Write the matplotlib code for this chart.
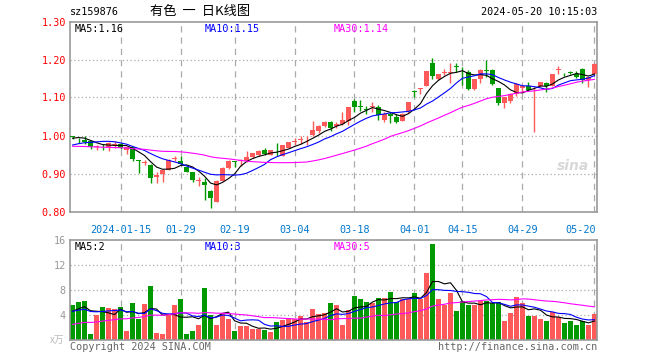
import numpy as np
import pandas as pd
import matplotlib
matplotlib.use('Agg')
import matplotlib.pyplot as plt

########################################################################
# Dados
feriados = ['2024-02-09', '2024-02-12', '2024-02-13', '2024-02-14', '2024-02-15',
            '2024-02-16', '2024-04-04', '2024-04-05', '2024-05-01', '2024-05-02', '2024-05-03']
datas = pd.bdate_range('2024-01-03', '2024-05-20').drop(pd.to_datetime(feriados))

abertura = [0.997, 0.988, 0.989, 0.985, 0.970, 0.973, 0.971, 0.975, 0.978, 0.961,
            0.969, 0.935, 0.928, 0.923, 0.891, 0.899, 0.910, 0.938, 0.934, 0.917,
            0.903, 0.881, 0.877, 0.853, 0.826, 0.880, 0.915, 0.932, 0.932, 0.934,
            0.943, 0.950, 0.961, 0.950, 0.954, 0.947, 0.967, 0.984, 0.988, 0.990,
            1.002, 1.013, 1.025, 1.036, 1.026, 1.030, 1.038, 1.090, 1.076, 1.068,
            1.076, 1.075, 1.040, 1.056, 1.049, 1.039, 1.065, 1.116, 1.123, 1.131,
            1.192, 1.148, 1.165, 1.165, 1.182, 1.180, 1.168, 1.122, 1.148, 1.171,
            1.172, 1.124, 1.086, 1.091, 1.108, 1.125, 1.131, 1.124, 1.130, 1.139,
            1.131, 1.173, 1.162, 1.166, 1.161, 1.176, 1.147, 1.163]
maxima = [0.999, 0.994, 1.000, 0.986, 0.975, 0.978, 0.982, 0.986, 0.981, 0.970,
          0.970, 0.935, 0.935, 0.925, 0.904, 0.909, 0.937, 0.945, 0.945, 0.918,
          0.904, 0.892, 0.888, 0.857, 0.883, 0.916, 0.936, 0.934, 0.938, 0.958,
          0.955, 0.962, 0.966, 0.962, 0.980, 0.975, 0.983, 0.994, 0.999, 1.000,
          1.037, 1.028, 1.037, 1.037, 1.035, 1.062, 1.074, 1.095, 1.093, 1.077,
          1.088, 1.080, 1.062, 1.062, 1.056, 1.058, 1.089, 1.119, 1.124, 1.169,
          1.203, 1.161, 1.174, 1.192, 1.190, 1.180, 1.172, 1.148, 1.174, 1.200,
          1.176, 1.125, 1.102, 1.111, 1.138, 1.134, 1.141, 1.127, 1.142, 1.140,
          1.162, 1.182, 1.164, 1.170, 1.170, 1.177, 1.155, 1.190]
minima = [0.991, 0.980, 0.978, 0.964, 0.961, 0.962, 0.959, 0.968, 0.965, 0.952,
          0.932, 0.901, 0.922, 0.876, 0.875, 0.877, 0.909, 0.932, 0.922, 0.903,
          0.878, 0.866, 0.829, 0.809, 0.824, 0.879, 0.913, 0.917, 0.920, 0.931,
          0.942, 0.947, 0.948, 0.949, 0.946, 0.946, 0.966, 0.976, 0.978, 0.975,
          1.000, 1.006, 1.022, 1.013, 1.020, 1.028, 1.028, 1.062, 1.065, 1.057,
          1.062, 1.042, 1.036, 1.033, 1.033, 1.038, 1.060, 1.102, 1.109, 1.130,
          1.150, 1.145, 1.158, 1.139, 1.168, 1.134, 1.119, 1.121, 1.138, 1.153,
          1.134, 1.080, 1.073, 1.086, 1.105, 1.112, 1.118, 1.008, 1.128, 1.115,
          1.130, 1.162, 1.157, 1.161, 1.152, 1.139, 1.128, 1.162]
fechamento = [0.996, 0.987, 0.982, 0.969, 0.971, 0.972, 0.980, 0.978, 0.968, 0.969,
              0.937, 0.934, 0.929, 0.888, 0.897, 0.908, 0.936, 0.939, 0.925, 0.905,
              0.882, 0.882, 0.871, 0.835, 0.880, 0.915, 0.932, 0.931, 0.936, 0.943,
              0.954, 0.960, 0.952, 0.961, 0.953, 0.974, 0.982, 0.985, 0.989, 0.991,
              1.015, 1.024, 1.035, 1.019, 1.030, 1.040, 1.074, 1.075, 1.075, 1.067,
              1.077, 1.053, 1.056, 1.051, 1.036, 1.056, 1.089, 1.115, 1.124, 1.169,
              1.157, 1.161, 1.166, 1.166, 1.181, 1.179, 1.122, 1.148, 1.172, 1.170,
              1.135, 1.086, 1.102, 1.108, 1.135, 1.130, 1.121, 1.125, 1.141, 1.130,
              1.161, 1.174, 1.161, 1.165, 1.155, 1.147, 1.154, 1.188]
volume = [5.6, 6.1, 6.3, 1.0, 4.0, 5.3, 5.1, 5.0, 5.3, 1.5,
          5.9, 3.4, 5.8, 8.6, 1.1, 1.0, 4.0, 5.6, 6.6, 1.0,
          1.4, 2.4, 8.3, 4.0, 2.4, 4.2, 3.4, 1.4, 2.2, 2.2,
          1.8, 1.8, 1.6, 1.3, 2.9, 3.2, 3.5, 3.4, 3.8, 2.9,
          5.0, 4.2, 4.3, 5.9, 5.6, 2.4, 4.8, 7.0, 6.6, 6.1,
          5.9, 6.7, 6.7, 7.7, 6.1, 6.6, 6.6, 7.5, 6.6, 10.7,
          15.4, 6.6, 5.6, 7.5, 4.6, 6.2, 5.6, 5.6, 6.2, 6.2,
          5.9, 6.1, 3.1, 4.4, 6.9, 6.0, 3.8, 3.8, 3.3, 3.1,
          4.5, 3.7, 2.7, 3.1, 2.4, 3.1, 2.4, 4.2]
# pregões anteriores (só para as médias móveis do início)
fech_anterior = [0.995, 0.992, 0.990, 0.988, 0.991, 0.993, 0.989, 0.986, 0.990, 0.986,
                 0.962, 0.955, 0.950, 0.948, 0.952, 0.946, 0.944, 0.950, 0.948, 0.945,
                 0.952, 0.956, 0.960, 0.958, 0.959, 0.978, 0.990, 0.998, 1.002]
vol_anterior = [1.3, 1.5, 1.4, 1.6, 1.2, 1.5, 1.4, 1.6, 1.3, 1.5,
                1.4, 1.6, 1.5, 1.3, 1.5, 1.4, 1.6, 1.5, 1.4, 1.5,
                4.4, 4.8, 4.6, 4.5, 4.7, 4.2, 4.5, 4.3, 4.4]

ticks_datas = ['2024-01-15', '2024-01-29', '2024-02-19', '2024-03-04', '2024-03-18',
               '2024-04-01', '2024-04-15', '2024-04-29', '2024-05-20']
ticks_rotulos = ['2024-01-15', '01-29', '02-19', '03-04', '03-18',
                 '04-01', '04-15', '04-29', '05-20']

########################################################################
# Médias móveis
n_ant = len(fech_anterior)
fech_tot = pd.Series(fech_anterior + fechamento)
vol_tot = pd.Series(vol_anterior + volume)
ma_preco = {k: fech_tot.rolling(k).mean().values[n_ant:] for k in (5, 10, 30)}
ma_vol = {k: vol_tot.rolling(k).mean().values[n_ant:] for k in (5, 10, 30)}

o = np.array(abertura); h = np.array(maxima); l = np.array(minima); c = np.array(fechamento)
x = np.arange(len(c))
sobe = c >= o
VERM = '#ff5a5a'
VERDE = '#009900'
cores = np.where(sobe, VERM, VERDE)
cor_ma = {5: 'black', 10: '#0000ff', 30: '#ff00ff'}
pos_ticks = [datas.get_loc(pd.Timestamp(d)) for d in ticks_datas]

MONO = 'DejaVu Sans Mono'
FS = 7.3
plt.rcParams['font.family'] = ['Noto Sans CJK SC', 'DejaVu Sans']

########################################################################
fig = plt.figure(figsize=(6.6, 3.6), dpi=100)
ax = fig.add_axes([70/660, 1-211.5/360, 527/660, 190/360])
axv = fig.add_axes([70/660, 1-340/360, 527/660, 100/360])

for a in (ax, axv):
    a.set_xlim(-0.42, len(c) - 0.58)
    for s in a.spines.values():
        s.set_color('#999999')
        s.set_linewidth(1.2)
    for p in pos_ticks:
        a.axvline(p, color='#aaaaaa', lw=0.9, ls=(0, (5, 4)), zorder=0)
    a.set_xticks([])
    a.tick_params(axis='y', length=0, pad=3)

# velas
ax.vlines(x, l, h, colors=cores, lw=1.0, zorder=2)
corpo = np.maximum(np.abs(c - o), 0.0015)
ax.bar(x, corpo, bottom=np.minimum(o, c), width=0.8, color=cores, lw=0, zorder=3)
for k in (5, 10, 30):
    ax.plot(x, ma_preco[k], color=cor_ma[k], lw=0.8, zorder=4)
ax.set_ylim(0.80, 1.30)
ax.set_yticks(np.arange(0.80, 1.31, 0.10))
ax.set_yticklabels(['%.2f' % v for v in np.arange(0.80, 1.31, 0.10)],
                   color='red', family=MONO, fontsize=FS)
for v in (0.9, 1.0, 1.1, 1.2):
    ax.axhline(v, color='#aaaaaa', lw=0.9, ls=(0, (1, 2)), zorder=0)

for i, p in enumerate(pos_ticks):
    ha = 'right' if i == len(pos_ticks) - 1 else 'center'
    ax.text(p + (0.2 if ha == 'right' else 0), 0.765, ticks_rotulos[i], ha=ha, va='top',
            color='#0077cc', family=MONO, fontsize=FS, clip_on=False)

ax.text(0.008, 0.985, 'MA5:1.16', transform=ax.transAxes, ha='left', va='top', family=MONO, fontsize=FS, color='black')
ax.text(0.255, 0.985, 'MA10:1.15', transform=ax.transAxes, ha='left', va='top', family=MONO, fontsize=FS, color='#0000ff')
ax.text(0.5, 0.985, 'MA30:1.14', transform=ax.transAxes, ha='left', va='top', family=MONO, fontsize=FS, color='#ff00ff')
ax.text(0.985, 0.24, 'sina', transform=ax.transAxes, ha='right', va='center',
        fontsize=10, style='italic', weight='bold', color='#d8d8d8', family='DejaVu Sans', zorder=1)

# volume
axv.bar(x, volume, width=0.82, color=cores, lw=0, zorder=2)
for k in (5, 10, 30):
    axv.plot(x, ma_vol[k], color=cor_ma[k], lw=0.8, zorder=3)
axv.set_ylim(0, 16)
axv.set_yticks([4, 8, 12, 16])
axv.set_yticklabels(['4', '8', '12', '16'], color='#999999', family=MONO, fontsize=FS)
for v in (4, 8, 12):
    axv.axhline(v, color='#aaaaaa', lw=0.9, ls=(0, (1, 2)), zorder=0)
axv.text(-0.01, 0.0, 'x万', transform=axv.transAxes, ha='right', va='center', fontsize=7, color='#bbbbbb')
axv.text(0.008, 0.975, 'MA5:2', transform=axv.transAxes, ha='left', va='top', family=MONO, fontsize=FS, color='black')
axv.text(0.255, 0.975, 'MA10:3', transform=axv.transAxes, ha='left', va='top', family=MONO, fontsize=FS, color='#0000ff')
axv.text(0.5, 0.975, 'MA30:5', transform=axv.transAxes, ha='left', va='top', family=MONO, fontsize=FS, color='#ff00ff')

# textos do topo e rodapé
fig.text(70/660, 1-12/360, 'sz159876', ha='left', va='center', family=MONO, fontsize=FS)
fig.text(200/660, 1-12/360, '有色  一  日K线图', ha='center', va='center', fontsize=9.5)
fig.text(597/660, 1-12/360, '2024-05-20 10:15:03', ha='right', va='center', family=MONO, fontsize=FS)
fig.text(70/660, 1-347/360, 'Copyright 2024 SINA.COM', ha='left', va='center', family=MONO, fontsize=FS, color='#666666')
fig.text(597/660, 1-347/360, 'http://finance.sina.com.cn', ha='right', va='center', family=MONO, fontsize=FS, color='#666666')

fig.savefig('out.png', dpi=100)
